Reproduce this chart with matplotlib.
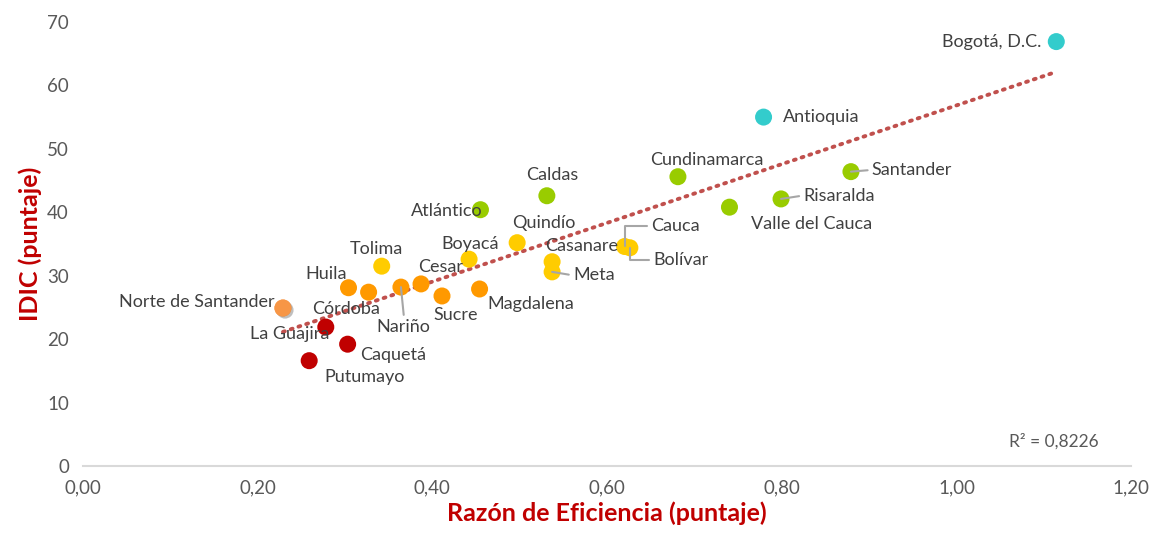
import numpy as np
import matplotlib.pyplot as plt
import matplotlib.patheffects as pe

# departamentos, eficiencia (x) and IDIC (y)
names = ["Bogotá, D.C.", "Antioquia", "Santander", "Risaralda", "Valle del Cauca",
         "Cundinamarca", "Caldas", "Atlántico", "Quindío", "Boyacá", "Casanare",
         "Meta", "Cauca", "Bolívar", "Tolima", "Huila", "Córdoba", "Nariño",
         "Cesar", "Sucre", "Magdalena", "Norte de Santander", "La Guajira",
         "Caquetá", "Putumayo"]
eficiencia = [1.114, 0.779, 0.879, 0.799, 0.740,
              0.681, 0.531, 0.455, 0.497, 0.442, 0.537,
              0.537, 0.620, 0.626, 0.342, 0.304, 0.327, 0.364,
              0.387, 0.411, 0.454, 0.229, 0.278,
              0.303, 0.259]
idic = [66.9, 55.0, 46.4, 42.1, 40.8,
        45.6, 42.6, 40.4, 35.2, 32.6, 32.2,
        30.6, 34.6, 34.4, 31.5, 28.1, 27.4, 28.2,
        28.7, 26.8, 27.9, 24.9, 21.9,
        19.2, 16.6]
grupo = ["alto", "alto", "medio_alto", "medio_alto", "medio_alto",
         "medio_alto", "medio_alto", "medio_alto", "medio", "medio", "medio",
         "medio", "medio", "medio", "medio", "medio_bajo", "medio_bajo", "medio_bajo",
         "medio_bajo", "medio_bajo", "medio_bajo", "norte", "bajo",
         "bajo", "bajo"]
r2_text = "R² = 0,8226"

colores = {"alto": "#33CCCC", "medio_alto": "#99CC00", "medio": "#FFCC00",
           "medio_bajo": "#FF9900", "norte": "#F79646", "bajo": "#C00000"}

# label placement: (dx, dy) in points, ha, leader line
etiquetas = {
    "Bogotá, D.C.": (-11, 0, "right", False),
    "Antioquia": (14, 0, "left", False),
    "Santander": (15, 1, "left", True),
    "Risaralda": (16, 2, "left", True),
    "Valle del Cauca": (59, -12, "center", False),
    "Cundinamarca": (21, 12, "center", False),
    "Caldas": (4, 15, "center", False),
    "Atlántico": (-24, -1, "center", False),
    "Quindío": (19, 14, "center", False),
    "Boyacá": (1, 11, "center", False),
    "Casanare": (21, 11, "center", False),
    "Meta": (15, -2, "left", True),
    "Cauca": (19, 15, "left", True),
    "Bolívar": (17, -9, "left", True),
    "Tolima": (-4, 12, "center", False),
    "Huila": (-16, 10, "center", False),
    "Córdoba": (-16, -12, "center", False),
    "Nariño": (2, -29, "center", True),
    "Cesar": (14, 12, "center", False),
    "Sucre": (10, -14, "center", False),
    "Magdalena": (37, -11, "center", False),
    "Norte de Santander": (-6, 4, "right", False),
    "La Guajira": (-26, -5, "center", False),
    "Caquetá": (33, -8, "center", False),
    "Putumayo": (40, -12, "center", False),
}

plt.rcParams['font.family'] = ['Lato', 'DejaVu Sans']

fig = plt.figure(figsize=(11.51, 5.35), dpi=100)
ax = fig.add_axes([0.072, 0.129, 0.911, 0.83])

x = np.array(eficiencia)
y = np.array(idic)

# linear trend
pend, inter = np.polyfit(x, y, 1)
xt = np.array([x.min(), x.max()])
ax.plot(xt, pend * xt + inter, color="#C0504D", lw=2.8, ls=(0, (0.5, 1.6)),
        dash_capstyle="round", zorder=2)

pts = ax.scatter(x, y, s=150, c=[colores[g] for g in grupo], edgecolors="none", zorder=3)

# Norte de Santander point drawn with a soft shadow
i_norte = grupo.index("norte")
ax.scatter([x[i_norte]], [y[i_norte]], s=150, c=colores["norte"], edgecolors="none",
           zorder=3.2,
           path_effects=[pe.SimplePatchShadow(offset=(1.5, -1.5), shadow_rgbFace="#808080",
                                              alpha=0.5), pe.Normal()])

for n, xi, yi in zip(names, x, y):
    dx, dy, ha, linea = etiquetas[n]
    ax.annotate(n, (xi, yi), xytext=(dx, dy), textcoords="offset points",
                ha=ha, va="center", fontsize=13, color="#404040", zorder=4)
    if linea:
        if n in ("Cauca", "Bolívar"):
            ax.annotate("", (xi, yi), xytext=(dx - 3, dy), textcoords="offset points",
                        arrowprops=dict(arrowstyle="-", color="#A6A6A6", lw=1.5,
                                        connectionstyle="angle,angleA=0,angleB=90,rad=0",
                                        shrinkA=0, shrinkB=0), zorder=3.5)
        elif n == "Nariño":
            ax.annotate("", (xi, yi), xytext=(dx, dy + 9), textcoords="offset points",
                        arrowprops=dict(arrowstyle="-", color="#A6A6A6", lw=1.5,
                                        shrinkA=0, shrinkB=0), zorder=3.5)
        else:
            ax.annotate("", (xi, yi), xytext=(dx - 3, dy), textcoords="offset points",
                        arrowprops=dict(arrowstyle="-", color="#A6A6A6", lw=1.5,
                                        shrinkA=0, shrinkB=0), zorder=3.5)

ax.text(0.926, 0.055, r2_text, transform=ax.transAxes, ha="center", va="center",
        fontsize=12.5, color="#595959")

ax.set_xlim(0, 1.2)
ax.set_ylim(0, 70)
ax.set_xticks(np.arange(0, 1.21, 0.2))
ax.set_xticklabels([f"{v:.2f}".replace(".", ",") for v in np.arange(0, 1.21, 0.2)])
ax.set_yticks(range(0, 71, 10))
ax.tick_params(length=0, labelsize=13.5, colors="#595959", pad=10)
for s in ("top", "right", "left"):
    ax.spines[s].set_visible(False)
ax.spines["bottom"].set_color("#D9D9D9")
ax.spines["bottom"].set_linewidth(1.5)

ax.set_xlabel("Razón de Eficiencia (puntaje)", fontsize=18, fontweight="bold",
              color="#C00000", labelpad=3)
ax.set_ylabel("IDIC (puntaje)", fontsize=18, fontweight="bold",
              color="#C00000", labelpad=4)

fig.savefig("out.png", dpi=100)
